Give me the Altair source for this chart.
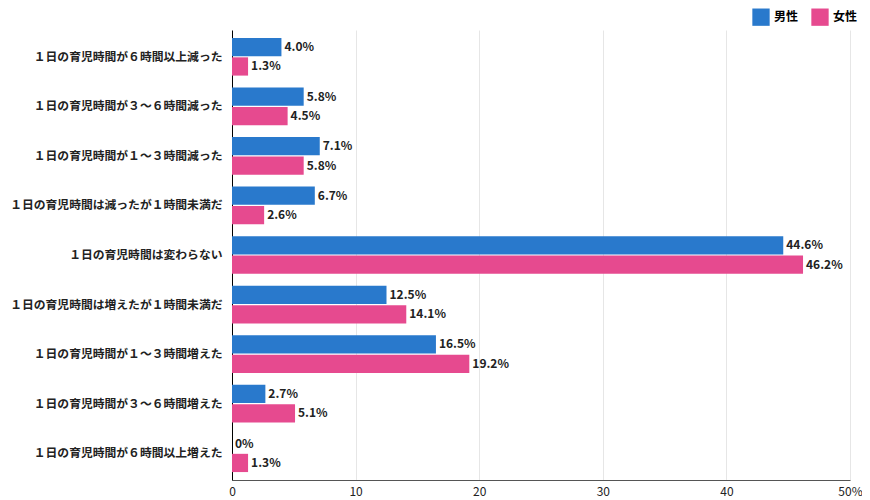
import altair as alt
import pandas as pd

categories = [
    "１日の育児時間が６時間以上減った",
    "１日の育児時間が３～６時間減った",
    "１日の育児時間が１～３時間減った",
    "１日の育児時間は減ったが１時間未満だ",
    "１日の育児時間は変わらない",
    "１日の育児時間は増えたが１時間未満だ",
    "１日の育児時間が１～３時間増えた",
    "１日の育児時間が３～６時間増えた",
    "１日の育児時間が６時間以上増えた",
]
male = [4.0, 5.8, 7.1, 6.7, 44.6, 12.5, 16.5, 2.7, 0]
female = [1.3, 4.5, 5.8, 2.6, 46.2, 14.1, 19.2, 5.1, 1.3]
male_labels = ["4.0%", "5.8%", "7.1%", "6.7%", "44.6%", "12.5%", "16.5%", "2.7%", "0%"]
female_labels = ["1.3%", "4.5%", "5.8%", "2.6%", "46.2%", "14.1%", "19.2%", "5.1%", "1.3%"]
series = ["男性", "女性"]
colors = ["#2979CC", "#E64A8F"]

rows = []
for i, c in enumerate(categories):
    rows.append({"cat": c, "series": "男性", "value": male[i], "label": male_labels[i]})
    rows.append({"cat": c, "series": "女性", "value": female[i], "label": female_labels[i]})
df = pd.DataFrame(rows)

FONT = "Noto Sans CJK JP"

y_enc = alt.Y("cat:N", sort=categories, title=None,
              scale=alt.Scale(paddingInner=0.24, paddingOuter=0.16),
              axis=alt.Axis(labelFontSize=11.8, labelFontWeight="bold", labelColor="#222",
                            labelPadding=10, ticks=False, domainColor="#000",
                            labelLimit=300, labelFont=FONT))
yoff = alt.YOffset("series:N", sort=series, scale=alt.Scale(paddingInner=0.06))

base = alt.Chart(df).encode(y=y_enc, yOffset=yoff)

bars = base.mark_bar().encode(
    x=alt.X("value:Q", title=None, scale=alt.Scale(domain=[0, 50]),
            axis=alt.Axis(values=[0, 10, 20, 30, 40, 50], ticks=False,
                          labelExpr="datum.value == 50 ? '50%' : datum.label",
                          labelFlush=False,
                          labelFontSize=12, labelColor="#222", labelFont=FONT,
                          gridColor="#e6e6e6", domainColor="#555", labelPadding=6)),
    color=alt.Color("series:N", sort=series,
                    scale=alt.Scale(domain=series, range=colors),
                    legend=alt.Legend(title=None, orient="none", legendX=520, legendY=-22,
                                      direction="horizontal", symbolType="square",
                                      symbolSize=300, symbolStrokeWidth=0,
                                      labelFontSize=12, labelFontWeight="bold",
                                      labelFont=FONT, columnPadding=12,
                                      symbolOpacity=1)),
)

text = base.mark_text(align="left", dx=3, fontSize=12, fontWeight="bold",
                      font=FONT, color="#222").encode(
    x="value:Q", text="label:N")

chart = (bars + text).properties(
    width=618, height=450,
    autosize=alt.AutoSizeParams(type="none"),
    padding={"left": 224, "top": 22, "right": 12, "bottom": 18},
).configure_view(stroke=None)

chart.save("out.html", embed_options={"renderer": "svg", "actions": False})
